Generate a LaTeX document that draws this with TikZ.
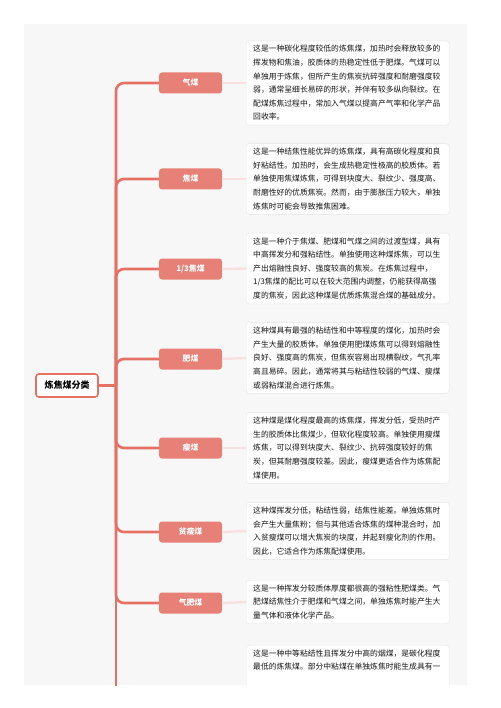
\documentclass[tikz,border=0pt]{standalone}
\usepackage{fontspec}
\setmainfont{Noto Sans CJK SC}
\definecolor{panelgray}{RGB}{247, 247, 247}
\definecolor{trunkred}{RGB}{229, 112, 100}
\definecolor{leafsalmon}{RGB}{231, 129, 119}
\definecolor{linkpink}{RGB}{249, 224, 224}
\definecolor{boxgray}{RGB}{230, 230, 230}
\definecolor{textdark}{RGB}{22, 22, 22}
\usetikzlibrary{positioning, calc}

\begin{document}
\begin{tikzpicture}[
  x=1pt, y=-1pt,
  rootbox/.style={draw=trunkred, line width=1.6pt, fill=white, rounded corners=3pt, minimum width=62pt, minimum height=23pt, inner sep=0pt, text=black, font=\fontsize{9}{10}\selectfont\bfseries},
  kindbox/.style={fill=leafsalmon, rounded corners=3pt, minimum width=63pt, minimum height=21pt, inner sep=0pt, text=white, font=\fontsize{7.8}{9}\selectfont\bfseries},
  descbox/.style={draw=boxgray, fill=white, rounded corners=3pt, anchor=west, text width=189pt, align=left, inner xsep=7pt, inner ysep=4.5pt, text=textdark, font=\fontsize{7.8}{13.6}\selectfont},
  branch/.style={draw=trunkred, line width=2.6pt, rounded corners=8pt},
  link/.style={draw=linkpink, line width=2.4pt}
]
  \useasboundingbox (0, 0) rectangle (500, 708);

  % Panel
  \fill[panelgray] (24, 24) rectangle (467, 685);

  % Root
  \node[rootbox] (root) at (67, 385.5) {炼焦煤分类};
  \coordinate (hub) at (116, 385.5);

  % Coal kinds
  \node[kindbox] (qimei) at (190.5, 83) {气煤};
  \node[kindbox] (jiaomei) at (190.5, 179) {焦煤};
  \node[kindbox] (sanjiao) at (190.5, 269) {1/3焦煤};
  \node[kindbox] (feimei) at (190.5, 359) {肥煤};
  \node[kindbox] (shoumei) at (190.5, 448) {瘦煤};
  \node[kindbox] (pinshou) at (190.5, 532) {贫瘦煤};
  \node[kindbox] (qifei) at (190.5, 603) {气肥煤};

  % Descriptions
  \node[descbox] (qimeitxt) at (246, 83) {
    这是一种碳化程度较低的炼焦煤，加热时会释放较多的\\
    挥发物和焦油，胶质体的热稳定性低于肥煤。气煤可以\\
    单独用于炼焦，但所产生的焦炭抗碎强度和耐磨强度较\\
    弱，通常呈细长易碎的形状，并伴有较多纵向裂纹。在\\
    配煤炼焦过程中，常加入气煤以提高产气率和化学产品\\
    回收率。
  };
  \node[descbox] (jiaomeitxt) at (246, 179) {
    这是一种结焦性能优异的炼焦煤，具有高碳化程度和良\\
    好粘结性。加热时，会生成热稳定性极高的胶质体。若\\
    单独使用焦煤炼焦，可得到块度大、裂纹少、强度高、\\
    耐磨性好的优质焦炭。然而，由于膨胀压力较大，单独\\
    炼焦时可能会导致推焦困难。
  };
  \node[descbox] (sanjiaotxt) at (246, 268.5) {
    这是一种介于焦煤、肥煤和气煤之间的过渡型煤，具有\\
    中高挥发分和强粘结性。单独使用这种煤炼焦，可以生\\
    产出熔融性良好、强度较高的焦炭。在炼焦过程中，\\
    1/3焦煤的配比可以在较大范围内调整，仍能获得高强\\
    度的焦炭，因此这种煤是优质炼焦混合煤的基础成分。
  };
  \node[descbox] (feimeitxt) at (246, 358) {
    这种煤具有最强的粘结性和中等程度的煤化，加热时会\\
    产生大量的胶质体。单独使用肥煤炼焦可以得到熔融性\\
    良好、强度高的焦炭，但焦炭容易出现横裂纹，气孔率\\
    高且易碎。因此，通常将其与粘结性较弱的气煤、瘦煤\\
    或弱粘煤混合进行炼焦。
  };
  \node[descbox] (shoumeitxt) at (246, 448) {
    这种煤是煤化程度最高的炼焦煤，挥发分低，受热时产\\
    生的胶质体比焦煤少，但软化程度较高。单独使用瘦煤\\
    炼焦，可以得到块度大、裂纹少、抗碎强度较好的焦\\
    炭，但其耐磨强度较差。因此，瘦煤更适合作为炼焦配\\
    煤使用。
  };
  \node[descbox] (pinshoutxt) at (246, 531) {
    这种煤挥发分低，粘结性弱，结焦性能差。单独炼焦时\\
    会产生大量焦粉；但与其他适合炼焦的煤种混合时，加\\
    入贫瘦煤可以增大焦炭的块度，并起到瘦化剂的作用。\\
    因此，它适合作为炼焦配煤使用。
  };
  \node[descbox] (qifeitxt) at (246, 602) {
    这是一种挥发分较质体厚度都很高的强粘性肥煤类。气\\
    肥煤结焦性介于肥煤和气煤之间，单独炼焦时能产生大\\
    量气体和液体化学产品。
  };

  % Links
  \draw[link] (qimei.east) -- (qimeitxt.west);
  \draw[link] (jiaomei.east) -- (jiaomeitxt.west);
  \draw[link] (sanjiao.east) -- (sanjiaotxt.west);
  \draw[link] (feimei.east) -- (feimeitxt.west);
  \draw[link] (shoumei.east) -- (shoumeitxt.west);
  \draw[link] (pinshou.east) -- (pinshoutxt.west);
  \draw[link] (qifei.east) -- (qifeitxt.west);

  % Branches
  \draw[branch] (root.east) -- (hub);
  \draw[branch] (hub) |- (qimei.west);
  \draw[branch] (hub) |- (jiaomei.west);
  \draw[branch] (hub) |- (sanjiao.west);
  \draw[branch] (hub) |- (feimei.west);
  \draw[branch] (hub) |- (shoumei.west);
  \draw[branch] (hub) |- (pinshou.west);
  \draw[branch] (hub) |- (qifei.west);

  % Cut-off part at the bottom
  \begin{scope}
    \clip (24, 24) rectangle (467, 685);
    \coordinate (tail) at (116, 700);
    \draw[branch] (hub) -- (tail);
    \node[descbox, anchor=north west, text depth=40pt] (lasttxt) at (246, 645) {
      这是一种中等粘结性且挥发分中高的烟煤，是碳化程度\\
      最低的炼焦煤。部分中粘煤在单独炼焦时能生成具有一
    };
  \end{scope}
\end{tikzpicture}
\end{document}
